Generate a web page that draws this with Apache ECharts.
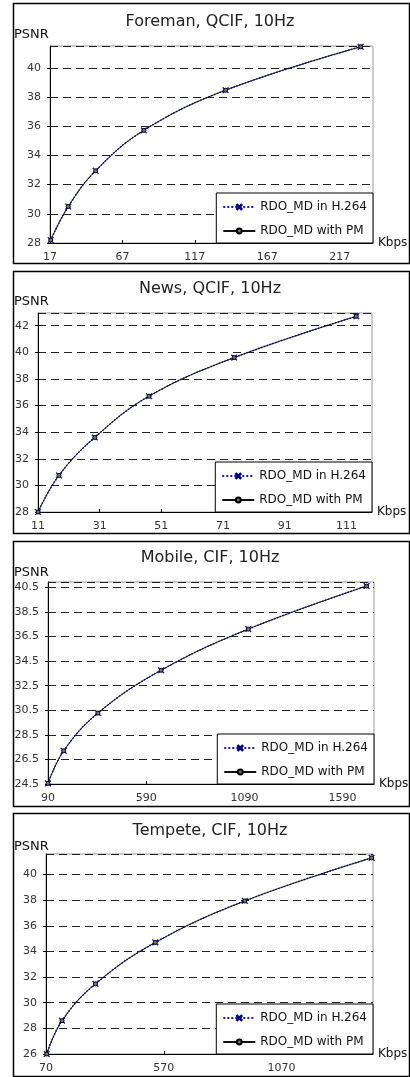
<!DOCTYPE html>
<html>
<head>
<meta charset="utf-8">
<script src="https://cdn.jsdelivr.net/npm/echarts@6/dist/echarts.min.js"></script>
<style>
  html, body { margin: 0; padding: 0; background: #fff; }
  #chart { width: 410px; height: 1077px; }
</style>
</head>
<body>
<div id="chart"></div>
<script>
// series names
const nameH264 = 'RDO_MD in H.264'
const namePM = 'RDO_MD with PM'

// Foreman, QCIF
const foremanRate = [17.5, 29.6, 48.5, 81.8, 138.2, 231.5]
const foremanH264 = [28.2, 30.5, 32.95, 35.72, 38.47, 41.45]
const foremanPM = [28.2, 30.5, 32.95, 35.72, 38.47, 41.45]

// News, QCIF
const newsRate = [11, 17.8, 29.4, 47.0, 74.6, 114.2]
const newsH264 = [28.0, 30.75, 33.6, 36.7, 39.6, 42.7]
const newsPM = [28.0, 30.75, 33.6, 36.7, 39.6, 42.7]

// Mobile, CIF
const mobileRate = [90, 170, 344, 666, 1110, 1712]
const mobileH264 = [24.55, 27.2, 30.27, 33.75, 37.1, 40.6]
const mobilePM = [24.55, 27.2, 30.27, 33.75, 37.1, 40.6]

// Tempete, CIF
const tempeteRate = [73, 138, 280, 534, 914, 1452]
const tempeteH264 = [26.0, 28.6, 31.47, 34.7, 37.94, 41.3]
const tempetePM = [26.0, 28.6, 31.47, 34.7, 37.94, 41.3]

const titles = ['Foreman, QCIF, 10Hz', 'News, QCIF, 10Hz', 'Mobile, CIF, 10Hz', 'Tempete, CIF, 10Hz']

// axis ranges per panel
const xMin = [17, 11, 90, 70]
const xMax = [240, 119.3, 1750, 1458]
const xStep = [50, 20, 500, 500]
const yMin = [28, 28, 24.5, 26]
const yMax = [41.5, 42.95, 40.93, 41.6]
const yStep = [2, 2, 2, 2]

const rates = [foremanRate, newsRate, mobileRate, tempeteRate]
const h264 = [foremanH264, newsH264, mobileH264, tempeteH264]
const pm = [foremanPM, newsPM, mobilePM, tempetePM]

// layout of each panel (pixels)
const panels = [
  { box: [13, 3, 396, 260], grid: { left: 50, top: 46, right: 37, height: 197 }, titleTop: 14, psnrTop: 28 },
  { box: [13, 271, 396, 262], grid: { left: 38, top: 313, right: 38, height: 199 }, titleTop: 281, psnrTop: 295 },
  { box: [13, 541, 396, 265], grid: { left: 48, top: 582, right: 36, height: 202 }, titleTop: 550, psnrTop: 566 },
  { box: [13, 813, 396, 263], grid: { left: 46, top: 854, right: 37, height: 200 }, titleTop: 823, psnrTop: 840 }
]

const font = 'DejaVu Sans'
const xMark = 'path://M0,1L1,0L5,4L9,0L10,1L6,5L10,9L9,10L5,6L1,10L0,9L4,5Z'

let option = {
  backgroundColor: '#fff',
  animation: false,
  textStyle: { fontFamily: font },
  title: [],
  legend: [],
  grid: [],
  xAxis: [],
  yAxis: [],
  series: [],
  graphic: []
}

panels.forEach((p, i) => {
  option.graphic.push({
    type: 'rect',
    shape: { x: p.box[0] + 0.5, y: p.box[1] + 0.5, width: p.box[2], height: p.box[3] },
    style: { fill: null, stroke: '#000', lineWidth: 1.5 },
    silent: true
  })
  option.title.push({
    text: titles[i], left: 210, top: p.titleTop, textAlign: 'center', padding: 0,
    textStyle: { fontSize: 16, fontWeight: 'normal', color: '#222', fontFamily: font }
  })
  option.title.push({
    text: 'PSNR', left: 14, top: p.psnrTop, padding: 0,
    textStyle: { fontSize: 13, fontWeight: 'normal', color: '#111', fontFamily: font }
  })
  const g = p.grid
  option.grid.push({
    left: g.left, top: g.top, right: g.right, height: g.height,
    show: true, borderColor: '#999', borderWidth: 1, backgroundColor: '#fff'
  })
  option.legend.push({
    orient: 'vertical',
    right: g.right, bottom: 1077 - g.top - g.height,
    padding: [8, 6, 6, 6],
    itemGap: 12,
    itemWidth: 32, itemHeight: 6,
    borderColor: '#000', borderWidth: 1, backgroundColor: '#fff',
    textStyle: { fontSize: 12, color: '#111', fontFamily: font },
    data: [nameH264, namePM]
  })
  option.xAxis.push({
    type: 'value', gridIndex: i,
    min: xMin[i], max: xMax[i], interval: xStep[i],
    name: 'Kbps', nameLocation: 'end', nameGap: 5,
    nameTextStyle: { fontSize: 12, color: '#111', fontFamily: font },
    axisLine: { show: true, lineStyle: { color: '#000', width: 1 } },
    axisTick: { show: true, inside: true, length: 3, lineStyle: { color: '#000' } },
    axisLabel: { fontSize: 11, color: '#333', margin: 9, showMaxLabel: false, formatter: v => String(v) },
    splitLine: { show: false }
  })
  option.yAxis.push({
    type: 'value', gridIndex: i,
    min: yMin[i], max: yMax[i], interval: yStep[i],
    axisLine: { show: true, lineStyle: { color: '#000', width: 1 } },
    axisTick: { show: true, length: 3, lineStyle: { color: '#000' } },
    axisLabel: { fontSize: 11, color: '#333', margin: 9, showMaxLabel: false, formatter: v => String(v) },
    splitLine: { show: true, lineStyle: { color: '#222', type: [8, 5], width: 1 } }
  })
  option.series.push({
    name: nameH264, type: 'line', xAxisIndex: i, yAxisIndex: i,
    data: rates[i].map((r, k) => [r, h264[i][k]]),
    smooth: 0.4,
    symbol: xMark, symbolSize: 6,
    lineStyle: { color: '#1a1aa8', type: 'dotted', width: 1.5 },
    itemStyle: { color: '#00007a', borderColor: '#00007a', borderWidth: 0.5 }
  })
  option.series.push({
    name: namePM, type: 'line', xAxisIndex: i, yAxisIndex: i,
    data: rates[i].map((r, k) => [r, pm[i][k]]),
    smooth: 0.4,
    symbol: 'circle', symbolSize: 4,
    lineStyle: { color: '#111', width: 1 },
    itemStyle: { color: '#777', borderColor: '#000', borderWidth: 1 }
  })
})

let chart = echarts.init(document.getElementById('chart'))
chart.setOption(option)
</script>
</body>
</html>
